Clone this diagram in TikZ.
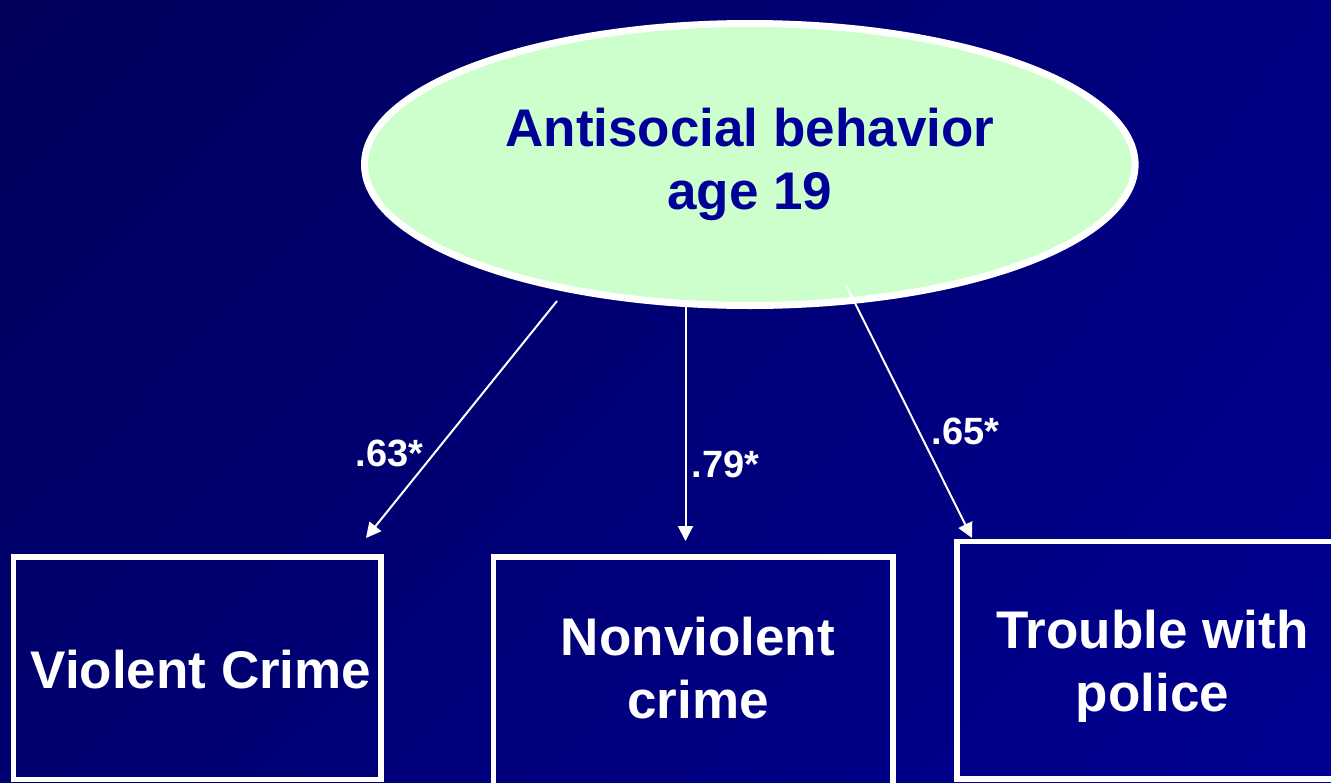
\documentclass[tikz,border=0pt]{standalone}
\usepackage{fontspec}
\setmainfont{Liberation Sans}
\usetikzlibrary{arrows.meta,shapes.geometric,shadings}
\definecolor{ellfill}{HTML}{CCFFCC}
\definecolor{ink}{HTML}{000099}
\definecolor{bgUL}{HTML}{00005A}
\definecolor{bgUR}{HTML}{000082}
\definecolor{bgLL}{HTML}{000070}
\definecolor{bgLR}{HTML}{000092}
\tikzset{
  latent/.style={ellipse, draw=white, line width=7pt, fill=ellfill, inner sep=0pt,
    text=ink, font=\bfseries\fontsize{53}{62.5}\selectfont, align=center},
  obsbox/.style={rectangle, draw=white, line width=5.5pt, inner sep=0pt},
  boxtext/.style={text=white, font=\bfseries\fontsize{53}{63}\selectfont, align=center, inner sep=0pt},
  coef/.style={text=white, font=\bfseries\fontsize{38}{44}\selectfont, inner sep=0pt, anchor=base},
  loadarrow/.style={draw=white, line width=2pt, -{Triangle[length=15pt,width=15pt]}}
}
\begin{document}
\begin{tikzpicture}[x=1pt,y=-1pt]
\useasboundingbox (0,0) rectangle (1331,782);
\shade[upper left=bgUL, upper right=bgUR, lower left=bgLL, lower right=bgLR] (0,0) rectangle (1331,782);
\begin{scope}
\clip (0,0) rectangle (1331,782);
\node[obsbox, minimum width=367.5pt, minimum height=222.5pt] (b1) at (197.25,668.25) {};
\node[obsbox, minimum width=399.5pt, minimum height=243pt] (b2) at (693.25,678.5) {};
\node[obsbox, minimum width=443pt, minimum height=237.7pt] (b3) at (1178.5,660.15) {};
\end{scope}
\node[boxtext, anchor=base] (t1) at (201,688.3) {Violent Crime};
\node[boxtext] (t2) at (697.9,668.2) {Nonviolent\\crime};
\node[boxtext] (t3) at (1152.5,666.7) {Trouble with\\police};
\node[latent, minimum width=770.6pt, minimum height=282pt] (ab) at (749.8,164.5) {Antisocial behavior\\age 19};
\coordinate (s1) at (557,301);
\coordinate (e1) at (366,538);
\coordinate (s2) at (685.5,307);
\coordinate (e2) at (685.5,541);
\coordinate (s3) at (846,285);
\coordinate (e3) at (972,538);
\draw[loadarrow] (s1) -- (e1);
\draw[loadarrow] (s2) -- (e2);
\draw[loadarrow] (s3) -- (e3);
\node[coef] (c1) at (389.5,466.7) {.63*};
\node[coef] (c2) at (725.3,477.3) {.79*};
\node[coef] (c3) at (965.3,444) {.65*};
\end{tikzpicture}
\end{document}
